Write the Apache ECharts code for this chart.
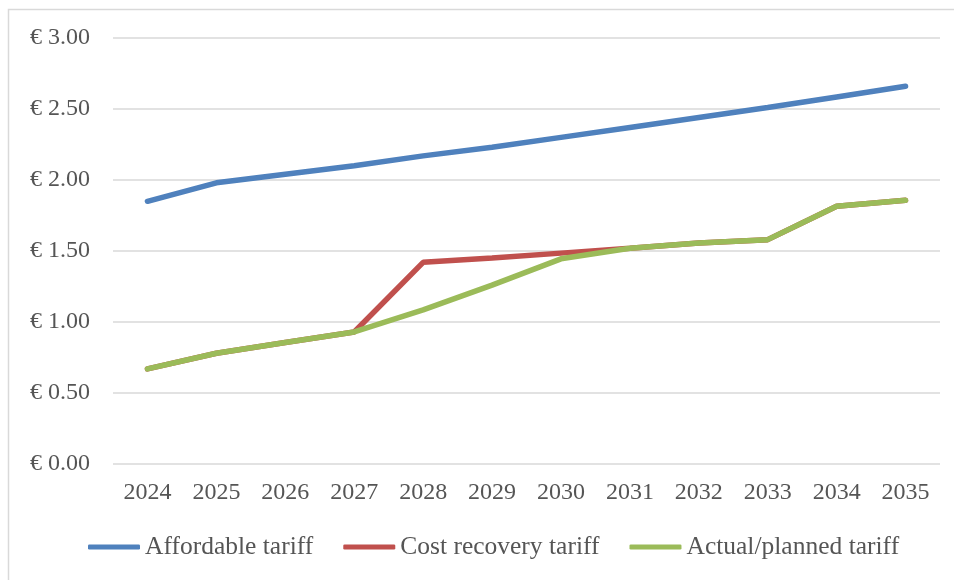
<!DOCTYPE html>
<html>
<head>
<meta charset="utf-8">
<script src="https://cdn.jsdelivr.net/npm/echarts@6/dist/echarts.min.js"></script>
<style>
html,body{margin:0;padding:0;background:#fff;}
#c{width:954px;height:580px;}
</style>
</head>
<body>
<div id="c"></div>
<script>
const years = ['2024','2025','2026','2027','2028','2029','2030','2031','2032','2033','2034','2035'];
const affordable = [1.85, 1.98, 2.04, 2.10, 2.17, 2.23, 2.30, 2.37, 2.44, 2.51, 2.585, 2.66];
const costRecovery = [0.67, 0.78, 0.855, 0.93, 1.42, 1.45, 1.485, 1.52, 1.557, 1.58, 1.815, 1.858];
const actualPlanned = [0.67, 0.78, 0.855, 0.93, 1.085, 1.26, 1.445, 1.52, 1.557, 1.58, 1.815, 1.858];
const seriesNames = ['Affordable tariff', 'Cost recovery tariff', 'Actual/planned tariff'];
const colors = ['#4F81BD', '#C0504D', '#9BBB59'];

const font = '"Liberation Serif", "DejaVu Serif", serif';
const chart = echarts.init(document.getElementById('c'), null, {renderer: 'canvas'});
const mk = (name, data, color) => ({
  name, type: 'line', data, showSymbol: false, symbol: 'none',
  lineStyle: {color, width: 5.5, cap: 'round'}, itemStyle: {color},
  animation: false
});
chart.setOption({
  animation: false,
  backgroundColor: '#fff',
  graphic: [{
    type: 'rect', shape: {x: 8.5, y: 9.5, width: 1200, height: 1200},
    style: {fill: 'none', stroke: '#D9D9D9', lineWidth: 1.5}, z: -1
  }],
  grid: {left: 113, right: 14, top: 38, bottom: 116, containLabel: false},
  xAxis: {
    type: 'category', data: years, boundaryGap: true,
    axisLine: {show: false}, axisTick: {show: false},
    axisLabel: {color: '#555555', fontFamily: font, fontSize: 24, margin: 17}
  },
  yAxis: {
    type: 'value', min: 0, max: 3, interval: 0.5,
    axisLine: {show: false}, axisTick: {show: false},
    splitLine: {lineStyle: {color: '#D9D9D9', width: 1.5}},
    axisLabel: {color: '#555555', fontFamily: font, fontSize: 24, margin: 23,
      formatter: v => '€ ' + v.toFixed(2)}
  },
  legend: {
    data: seriesNames, left: 88, top: 534, padding: 0, itemWidth: 52, itemHeight: 5, itemGap: 30,
    icon: 'roundRect',
    textStyle: {color: '#555555', fontFamily: font, fontSize: 25.5, padding: [0, 0, 0, 0]}
  },
  series: [
    mk(seriesNames[0], affordable, colors[0]),
    mk(seriesNames[1], costRecovery, colors[1]),
    mk(seriesNames[2], actualPlanned, colors[2])
  ]
});
</script>
</body>
</html>
